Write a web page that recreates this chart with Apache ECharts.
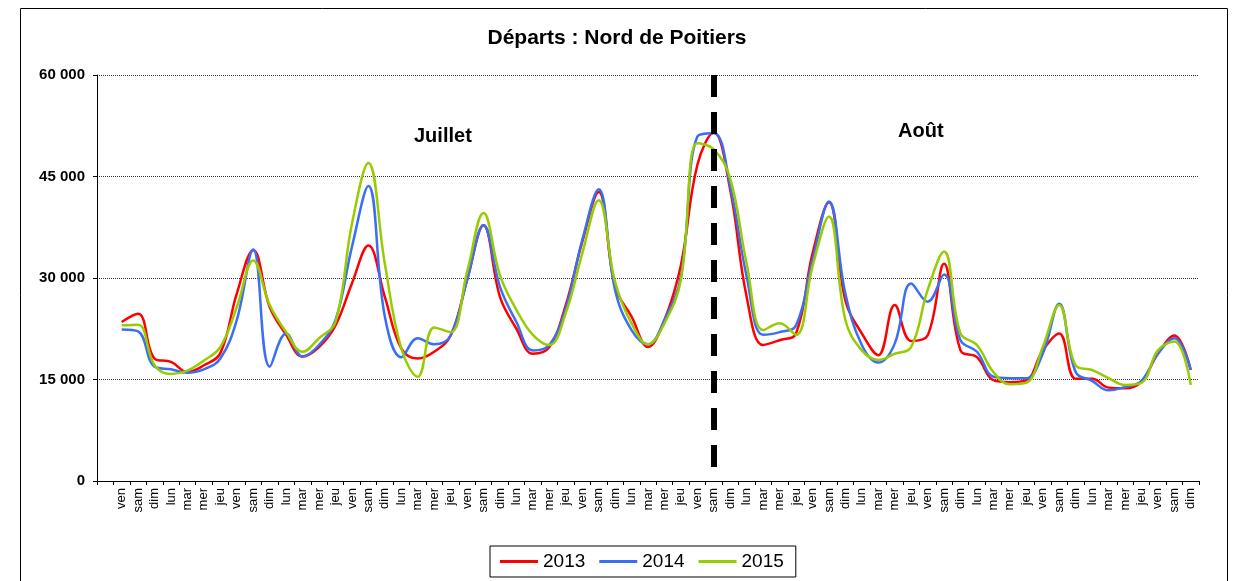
<!DOCTYPE html>
<html>
<head>
<meta charset="utf-8">
<title>Départs : Nord de Poitiers</title>
<script src="https://cdn.jsdelivr.net/npm/echarts@6/dist/echarts.min.js"></script>
<style>
	html, body { margin: 0; padding: 0; background: #fff; }
	#chart { width: 1234px; height: 581px; }
</style>
</head>
<body>
<div id="chart"></div>
<script>
// first slot is empty in the original chart, data starts on "ven"
const dayLabels = ['',
	'ven','sam','dim','lun','mar','mer','jeu',
	'ven','sam','dim','lun','mar','mer','jeu',
	'ven','sam','dim','lun','mar','mer','jeu',
	'ven','sam','dim','lun','mar','mer','jeu',
	'ven','sam','dim','lun','mar','mer','jeu',
	'ven','sam','dim','lun','mar','mer','jeu',
	'ven','sam','dim','lun','mar','mer','jeu',
	'ven','sam','dim','lun','mar','mer','jeu',
	'ven','sam','dim','lun','mar','mer','jeu',
	'ven','sam','dim'
];

const departs2013 = [null,
	23500, 24700, 18100, 17600, 16100, 17100, 18900, 27700, 34100, 25700, 21600,
	18400, 19800, 23000, 29200, 34800, 27200, 19600, 18100, 19100, 21500, 29700,
	37800, 27200, 22500, 18800, 19800, 26000, 35300, 42700, 28700, 24300, 19800,
	23800, 31900, 46700, 51500, 43000, 27200, 20100, 20800, 21800, 33600, 41200,
	26700, 21800, 18600, 26000, 20700, 21500, 32100, 19300, 18300, 14900, 14600,
	14900, 19300, 21800, 15100, 15100, 13800, 13700, 14700, 18800, 21500, 16400
];

const departs2014 = [null,
	22400, 22100, 16900, 16500, 16000, 16500, 18100, 23800, 34200, 16900, 21800,
	18400, 20100, 23800, 34600, 43600, 24300, 18300, 21100, 20200, 21500, 29700,
	37800, 28700, 23500, 19300, 20100, 25500, 35600, 43100, 28200, 22300, 20200,
	23800, 30200, 50900, 51400, 43500, 30200, 21600, 22000, 23000, 32600, 41300,
	27700, 20100, 17500, 20300, 29200, 26500, 30500, 20800, 19100, 15400, 15200,
	15200, 18800, 26200, 16100, 14800, 13400, 13900, 14800, 18800, 21100, 16400
];

const departs2015 = [null,
	23000, 23100, 17100, 15800, 16300, 17800, 19800, 25700, 32600, 26000, 22000,
	19100, 21100, 23500, 38000, 47000, 32100, 19600, 15400, 22700, 22000, 30900,
	39600, 30400, 25300, 21600, 20100, 24800, 33600, 41500, 29400, 23300, 20200,
	23300, 29700, 49900, 49000, 44700, 32100, 22300, 23300, 21600, 31700, 39100,
	23800, 19300, 17900, 18800, 19800, 28200, 33900, 21800, 20100, 16100, 14300,
	14500, 19800, 26000, 17100, 16400, 15200, 14200, 14500, 19300, 20600, 14200
];

const yTicks = [0, 15000, 30000, 45000, 60000];
const monthSplit = 37; // sam 1er août

( function() {

	const font = '"Liberation Sans", Arial, sans-serif';

	const formatThousands = function( v ) {
		return String(v).replace(/\B(?=(\d{3})+(?!\d))/g, ' ');
	}

	const lineSeries = function( name, data, color, extra ) {
		const s = {
			name: name,
			type: 'line',
			data: data,
			smooth: 0.4,
			showSymbol: false,
			connectNulls: false,
			lineStyle: { color: color, width: 2.5 },
			itemStyle: { color: color },
			z: 3
		};
		return Object.assign(s, extra || {});
	}

	const buildChart = function() {
		const el = document.getElementById('chart');
		const myChart = echarts.init(el, null, { renderer: 'canvas' });

		const option = {
			animation: false,
			backgroundColor: '#fff',
			textStyle: { fontFamily: font },
			title: {
				text: 'Départs : Nord de Poitiers',
				left: 'center',
				top: 23,
				textStyle: { fontFamily: font, fontSize: 21, fontWeight: 'bold', color: '#000' }
			},
			legend: {
				data: ['2013', '2014', '2015'],
				left: 490,
				top: 546,
				icon: 'rect',
				itemWidth: 38,
				itemHeight: 3,
				itemGap: 14,
				padding: [6, 12, 6, 10],
				borderColor: '#000',
				borderWidth: 1,
				textStyle: { fontFamily: font, fontSize: 19, color: '#000' }
			},
			grid: { left: 97, right: 35, top: 75, bottom: 100, containLabel: false },
			xAxis: {
				type: 'category',
				data: dayLabels,
				boundaryGap: true,
				axisLine: { lineStyle: { color: '#000', width: 1 } },
				axisTick: { show: true, length: 4, lineStyle: { color: '#000' } },
				axisLabel: {
					interval: 0,
					rotate: 90,
					margin: 7,
					fontFamily: font,
					fontSize: 13,
					color: '#000'
				},
				splitLine: { show: false }
			},
			yAxis: {
				type: 'value',
				min: yTicks[0],
				max: yTicks[yTicks.length - 1],
				interval: yTicks[1] - yTicks[0],
				axisLine: { show: true, lineStyle: { color: '#000', width: 1 } },
				axisTick: { show: true, length: 4, lineStyle: { color: '#000' } },
				axisLabel: {
					margin: 12,
					fontFamily: font,
					fontSize: 15,
					fontWeight: 'bold',
					color: '#000',
					formatter: formatThousands
				},
				splitLine: { show: true, lineStyle: { color: '#333', width: 1, type: [1, 1] } }
			},
			series: [
				lineSeries('2013', departs2013, '#ff0000', {
					markLine: {
						silent: true,
						symbol: ['none', 'none'],
						label: { show: false },
						lineStyle: { color: '#000', width: 6, type: [22, 15] },
						data: [[
							{ coord: [monthSplit, 60000] },
							{ coord: [monthSplit, 1900] }
						]]
					}
				}),
				lineSeries('2014', departs2014, '#3a6ff5'),
				lineSeries('2015', departs2015, '#99cc00')
			],
			graphic: [
				{
					type: 'rect',
					left: 18, top: 6,
					shape: { width: 1207, height: 600 },
					style: { fill: 'none', stroke: '#000', lineWidth: 1 },
					silent: true
				},
				{
					type: 'text',
					left: 414, top: 126,
					style: { text: 'Juillet', font: 'bold 20px ' + font, fill: '#000' }
				},
				{
					type: 'text',
					left: 898, top: 121,
					style: { text: 'Août', font: 'bold 20px ' + font, fill: '#000' }
				}
			]
		};

		myChart.setOption(option);
		window.onresize = function() {
			myChart.resize();
		};
	}

	document.addEventListener('DOMContentLoaded', function() {
		buildChart();
	});

}() );
</script>
</body>
</html>
